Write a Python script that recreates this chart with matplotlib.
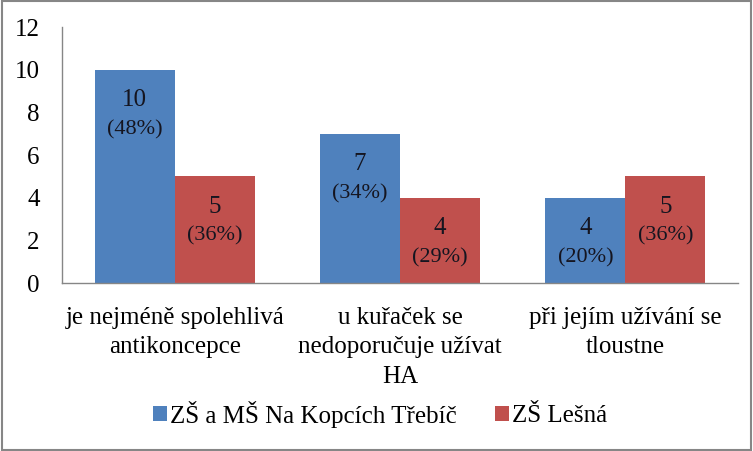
"""Grouped bar chart: knowledge about hormonal contraception, two schools."""

import matplotlib.pyplot as plt
import matplotlib.patches as mpatches
import numpy as np

plt.rcParams["font.family"] = ["Liberation Serif", "DejaVu Serif"]

categories = [
    "je nejméně spolehlivá\nantikoncepce",
    "u kuřaček se\nnedoporučuje užívat\nHA",
    "při jejím užívání se\ntloustne",
]
series_names = ["ZŠ a MŠ Na Kopcích Třebíč", "ZŠ Lešná"]
counts_trebic = [10, 7, 4]
counts_lesna = [5, 4, 5]
pct_trebic = [48, 34, 20]
pct_lesna = [36, 29, 36]
y_ticks = [0, 2, 4, 6, 8, 10, 12]

colors = ["#4F81BD", "#C0504D"]
grey = "#868686"
label_color = "#151520"

fig = plt.figure(figsize=(7.53, 4.51), dpi=100)
ax = fig.add_axes([62 / 753, 1 - 283 / 451, 676 / 753, 256 / 451])

x = np.arange(len(categories))
width = 0.355
groups = [(counts_trebic, pct_trebic), (counts_lesna, pct_lesna)]
for k, (vals, pcts) in enumerate(groups):
    pos = x + (k - 0.5) * width
    ax.bar(pos, vals, width, color=colors[k], label=series_names[k])
    for xp, v, p in zip(pos, vals, pcts):
        ax.annotate(str(v), (xp, v), xytext=(0, -22), textcoords="offset points",
                    ha="center", va="center", fontsize=18, color=label_color)
        ax.annotate(f"({p}%)", (xp, v), xytext=(0, -43), textcoords="offset points",
                    ha="center", va="center", fontsize=16, color=label_color)

ax.set_xlim(-0.5, len(categories) - 0.5)
ax.set_ylim(0, 12)
ax.set_yticks(y_ticks)
ax.tick_params(axis="y", length=0, pad=16, labelsize=18)

ax.set_xticks(x)
ax.set_xticklabels(categories, fontsize=18, linespacing=1.45)
ax.tick_params(axis="x", length=0, pad=17)

for side in ["top", "right"]:
    ax.spines[side].set_visible(False)
for side in ["left", "bottom"]:
    ax.spines[side].set_color(grey)
    ax.spines[side].set_linewidth(1)

fig.legend(loc="center", bbox_to_anchor=(380 / 753, 1 - 414 / 451), ncol=2,
           frameon=False, fontsize=18, handlelength=0.56, handleheight=0.56,
           handletextpad=0.15, columnspacing=1.5)

fig.patches.append(mpatches.Rectangle((0.002, 0.003), 0.996, 0.994,
                                      transform=fig.transFigure, fill=False,
                                      edgecolor=grey, linewidth=1.5))

fig.savefig("out.png", dpi=100)
plt.close(fig)
